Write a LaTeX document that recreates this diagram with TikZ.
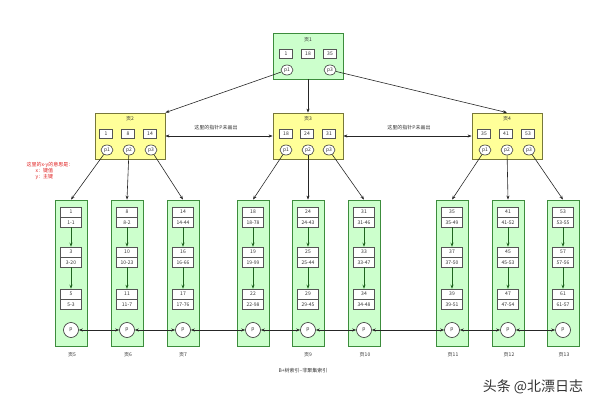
\documentclass[tikz,border=0pt]{standalone}
\usepackage{fontspec}
\setmainfont{Noto Sans CJK SC}
\usetikzlibrary{arrows.meta,shapes.geometric,shapes.multipart}
\definecolor{pagefill}{HTML}{FFFF99}
\definecolor{pageline}{HTML}{77773A}
\definecolor{leaffill}{HTML}{CCFFCC}
\definecolor{leafline}{HTML}{3C8C3C}
\definecolor{keyline}{HTML}{555555}
\definecolor{leafarrow}{HTML}{1E641E}
\definecolor{txt}{HTML}{333333}
\definecolor{notered}{HTML}{E02020}

\begin{document}
\begin{tikzpicture}[x=1pt,y=-1pt]
    \tikzset{font=\fontsize{5}{6}\selectfont, text=txt}
    \tikzset{page/.style = {draw=pageline, fill=pagefill, line width=0.8pt, minimum width=70pt, minimum height=46pt, inner sep=0pt}}
    \tikzset{rootpage/.style = {page, draw=leafline, fill=leaffill}}
    \tikzset{key/.style = {draw=keyline, fill=white, line width=0.6pt, minimum width=13pt, minimum height=9pt, inner sep=0pt}}
    \tikzset{ptr/.style = {ellipse, draw=black!80, fill=white, line width=0.6pt, minimum width=12pt, minimum height=10pt, inner sep=0pt}}
    \tikzset{leaf/.style = {draw=leafline, fill=leaffill, line width=0.8pt, minimum width=32pt, minimum height=146pt, inner sep=0pt}}
    \tikzset{leafkey/.style = {rectangle split, rectangle split parts=2, draw=keyline, fill=white, line width=0.6pt, minimum width=21pt, text height=4pt, text depth=1pt, inner xsep=1pt, inner ysep=2.5pt}}
    \tikzset{lp/.style = {circle, draw=black!80, fill=white, line width=0.6pt, minimum size=15pt, inner sep=0pt}}
    \tikzset{edge/.style = {draw=black!85, line width=0.6pt, -{Stealth[length=4pt,width=3pt]}}}
    \tikzset{twoway/.style = {edge, {Stealth[length=4pt,width=3pt]}-{Stealth[length=4pt,width=3pt]}}}
    \tikzset{down/.style = {draw=leafarrow, line width=0.8pt, -{Stealth[length=4pt,width=3pt]}}}
    \useasboundingbox (0,0) rectangle (600,404);

    % root page
    \node[rootpage] (page1) at (308,56) {};
    \node (t1) at (308,40) {页1};
    \node[key] (k1a) at (286,54) {1};
    \node[key] (k1b) at (308,54) {18};
    \node[key] (k1c) at (330,54) {35};
    \node[ptr] (r1) at (287,70) {p1};
    \node[ptr] (r3) at (330,70) {p3};

    % inner pages
    \node[page] (page2) at (130,136) {};
    \node (t2) at (130,119) {页2};
    \node[key] (k2a) at (106,134) {1};
    \node[key] (k2b) at (128,134) {8};
    \node[key] (k2c) at (150,134) {14};
    \node[ptr] (q2a) at (107,150) {p1};
    \node[ptr] (q2b) at (129,150) {p2};
    \node[ptr] (q2c) at (151,150) {p3};

    \node[page] (page3) at (308,136) {};
    \node (t3) at (308,119) {页3};
    \node[key] (k3a) at (286,134) {18};
    \node[key] (k3b) at (307,134) {24};
    \node[key] (k3c) at (329,134) {31};
    \node[ptr] (q3a) at (286,150) {p1};
    \node[ptr] (q3b) at (308,150) {p2};
    \node[ptr] (q3c) at (329,150) {p3};

    \node[page] (page4) at (507,136) {};
    \node (t4) at (507,119) {页4};
    \node[key] (k4a) at (484,134) {35};
    \node[key] (k4b) at (506,134) {41};
    \node[key] (k4c) at (528,134) {53};
    \node[ptr] (q4a) at (485,150) {p1};
    \node[ptr] (q4b) at (507,150) {p2};
    \node[ptr] (q4c) at (529,150) {p3};

    \node (note23) at (216,128) {这里的指针P未画出};
    \node (note34) at (409,128) {这里的指针P未画出};
    \node[anchor=west, align=left, text=notered] (xy) at (23,171) {这里的x-y的意思是：\\\hspace{9pt}x：键值\\\hspace{9pt}y：主键};

    % leaf pages
    \node[leaf] (leaf5) at (71,273) {};
    \node[leafkey] (k5a) at (71,217) {1\nodepart{two}1-1};
    \node[leafkey] (k5b) at (71,257) {3\nodepart{two}3-20};
    \node[leafkey] (k5c) at (71,299) {5\nodepart{two}5-3};
    \node[lp] (lp5) at (71,330) {p};
    \node (t5) at (72,355) {页5};

    \node[leaf] (leaf6) at (127,273) {};
    \node[leafkey] (k6a) at (127,217) {8\nodepart{two}8-2};
    \node[leafkey] (k6b) at (127,257) {10\nodepart{two}10-23};
    \node[leafkey] (k6c) at (127,299) {11\nodepart{two}11-7};
    \node[lp] (lp6) at (127,330) {p};
    \node (t6) at (128,355) {页6};

    \node[leaf] (leaf7) at (183,273) {};
    \node[leafkey] (k7a) at (183,217) {14\nodepart{two}14-44};
    \node[leafkey] (k7b) at (183,257) {16\nodepart{two}16-66};
    \node[leafkey] (k7c) at (183,299) {17\nodepart{two}17-76};
    \node[lp] (lp7) at (183,330) {p};
    \node (t7) at (183,355) {页7};

    \node[leaf] (leaf8) at (253,273) {};
    \node[leafkey] (k8a) at (253,217) {18\nodepart{two}18-78};
    \node[leafkey] (k8b) at (253,257) {19\nodepart{two}19-99};
    \node[leafkey] (k8c) at (253,299) {22\nodepart{two}22-98};
    \node[lp] (lp8) at (253,330) {p};

    \node[leaf] (leaf9) at (308,273) {};
    \node[leafkey] (k9a) at (308,217) {24\nodepart{two}24-43};
    \node[leafkey] (k9b) at (308,257) {25\nodepart{two}25-44};
    \node[leafkey] (k9c) at (308,299) {29\nodepart{two}29-45};
    \node[lp] (lp9) at (308,330) {p};
    \node (t9) at (308,355) {页9};

    \node[leaf] (leaf10) at (364,273) {};
    \node[leafkey] (k10a) at (364,217) {31\nodepart{two}31-46};
    \node[leafkey] (k10b) at (364,257) {33\nodepart{two}33-47};
    \node[leafkey] (k10c) at (364,299) {34\nodepart{two}34-48};
    \node[lp] (lp10) at (364,330) {p};
    \node (t10) at (365,355) {页10};

    \node[leaf] (leaf11) at (452,273) {};
    \node[leafkey] (k11a) at (452,217) {35\nodepart{two}35-49};
    \node[leafkey] (k11b) at (452,257) {37\nodepart{two}37-50};
    \node[leafkey] (k11c) at (452,299) {39\nodepart{two}39-51};
    \node[lp] (lp11) at (452,330) {p};
    \node (t11) at (453,355) {页11};

    \node[leaf] (leaf12) at (508,273) {};
    \node[leafkey] (k12a) at (508,217) {41\nodepart{two}41-52};
    \node[leafkey] (k12b) at (508,257) {45\nodepart{two}45-53};
    \node[leafkey] (k12c) at (508,299) {47\nodepart{two}47-54};
    \node[lp] (lp12) at (508,330) {p};
    \node (t12) at (509,355) {页12};

    \node[leaf] (leaf13) at (563,273) {};
    \node[leafkey] (k13a) at (563,217) {53\nodepart{two}53-55};
    \node[leafkey] (k13b) at (563,257) {57\nodepart{two}57-56};
    \node[leafkey] (k13c) at (563,299) {61\nodepart{two}61-57};
    \node[lp] (lp13) at (563,330) {p};
    \node (t13) at (564,355) {页13};

    \node (caption) at (303,371) {B+树索引--非聚集索引};
    \node[font=\fontsize{14}{16}\selectfont] (mark) at (533,387) {头条 @北漂日志};

    % edges
    \draw[edge] (r1) -- (page2.north east);
    \draw[edge] (page1.south) -- (page3.north);
    \draw[edge] (r3) -- (page4.north);
    \draw[twoway] (page2) -- (page3);
    \draw[twoway] (page3) -- (page4);

    \draw[edge] (q2a) -- (leaf5.north);
    \draw[edge] (q2b) -- (leaf6.north);
    \draw[edge] (q2c) -- (leaf7.north);
    \draw[edge] (q3a) -- (leaf8.north);
    \draw[edge] (q3b) -- (leaf9.north);
    \draw[edge] (q3c) -- (leaf10.north);
    \draw[edge] (q4a) -- (leaf11.north);
    \draw[edge] (q4b) -- (leaf12.north);
    \draw[edge] (q4c) -- (leaf13.north);

    \draw[down] (k5a) -- (k5b);
    \draw[down] (k5b) -- (k5c);
    \draw[down] (k6a) -- (k6b);
    \draw[down] (k6b) -- (k6c);
    \draw[down] (k7a) -- (k7b);
    \draw[down] (k7b) -- (k7c);
    \draw[down] (k8a) -- (k8b);
    \draw[down] (k8b) -- (k8c);
    \draw[down] (k9a) -- (k9b);
    \draw[down] (k9b) -- (k9c);
    \draw[down] (k10a) -- (k10b);
    \draw[down] (k10b) -- (k10c);
    \draw[down] (k11a) -- (k11b);
    \draw[down] (k11b) -- (k11c);
    \draw[down] (k12a) -- (k12b);
    \draw[down] (k12b) -- (k12c);
    \draw[down] (k13a) -- (k13b);
    \draw[down] (k13b) -- (k13c);

    \draw[twoway] (lp5) -- (lp6);
    \draw[twoway] (lp6) -- (lp7);
    \draw[twoway] (lp7) -- (lp8);
    \draw[twoway] (lp8) -- (lp9);
    \draw[twoway] (lp9) -- (lp10);
    \draw[twoway] (lp10) -- (lp11);
    \draw[twoway] (lp11) -- (lp12);
    \draw[twoway] (lp12) -- (lp13);
\end{tikzpicture}
\end{document}
